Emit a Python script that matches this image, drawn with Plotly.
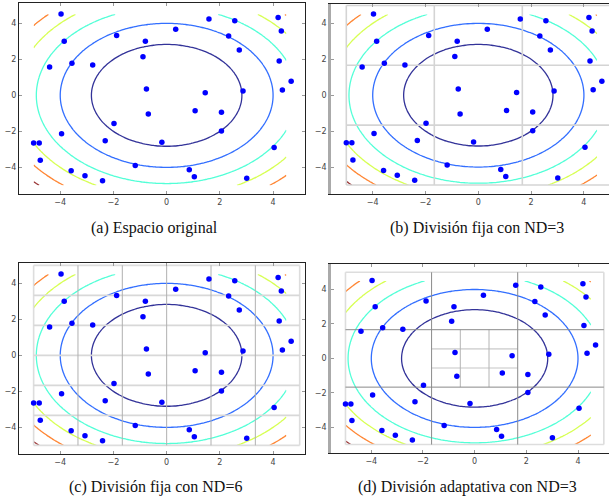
import numpy as np
import plotly.graph_objects as go

# ---- data ----
pts_x = [-3.97, -3.85, -4.40, -3.56, -2.78, -1.88, -0.80, -0.89, 0.34, 1.59,
         2.56, 2.33, 2.73, 4.19, 4.31, 4.23, 4.68, 4.35, -0.76, 1.45,
         2.87, -0.69, 1.07, 2.06, 2.06, -1.98, -2.31, -3.95, -5.00, -4.79,
         -4.75, -3.59, -3.07, -2.41, -1.18, -0.18, 0.85, 1.04, 3.01, 4.04]
pts_y = [4.52, 3.00, 1.57, 1.78, 1.69, 3.33, 3.00, 2.15, 3.67, 4.24,
         4.15, 3.30, 2.52, 4.33, 3.57, 1.91, 0.78, 0.30, 0.35, 0.15,
         0.24, -1.04, -0.85, -0.94, -1.98, -1.56, -2.52, -2.13, -2.65, -2.65,
         -3.61, -4.19, -4.46, -4.74, -3.89, -2.61, -4.13, -4.52, -4.61, -2.89]

grid_x = np.arange(-5.0, 4.5001, 0.1)
grid_y = np.arange(-5.0, 4.5001, 0.1)
contour_levels = dict(start=8, end=48, size=8)

tick_vals = [-4, -2, 0, 2, 4]
captions = ["(a) Espacio original", "(b) División fija con ND=3",
            "(c) División fija con ND=6", "(d) División adaptativa con ND=3"]

space_lo, space_hi = -5.0, 5.0
nd3 = np.linspace(space_lo, space_hi, 4)
nd6 = np.linspace(space_lo, space_hi, 7)
sub_center = np.linspace(nd3[1], nd3[2], 4)

jet = [[0.0, '#000080'], [0.2, '#004cff'], [0.4, '#29ffce'],
       [0.6, '#ceff29'], [0.8, '#ff6800'], [1.0, '#800000']]

W, H = 609, 500

panels = [
    dict(px=(19, 305), py=(3, 194), xr=[-5.55, 5.2], yr=[-5.48, 5.13], gray_left=False),
    dict(px=(331, 609), py=(4, 194), xr=[-5.58, 4.95], yr=[-5.5, 5.08], gray_left=True),
    dict(px=(19, 305), py=(263, 454), xr=[-5.55, 5.2], yr=[-5.48, 5.13], gray_left=False),
    dict(px=(331, 609), py=(264, 453), xr=[-5.56, 5.2], yr=[-5.49, 5.48], gray_left=True),
]

fig = go.Figure()
Z = np.add.outer(grid_y ** 2, grid_x ** 2)


def seg_trace(segs, xa, ya, color, width):
    xs, ys = [], []
    for (x0, y0, x1, y1) in segs:
        xs += [x0, x1, None]
        ys += [y0, y1, None]
    return go.Scatter(x=xs, y=ys, mode='lines', xaxis=xa, yaxis=ya,
                      line=dict(color=color, width=width), hoverinfo='skip',
                      showlegend=False)


def rect_segs(lo, hi):
    return [(lo, lo, hi, lo), (lo, hi, hi, hi), (lo, lo, lo, hi), (hi, lo, hi, hi)]


for i, p in enumerate(panels):
    n = '' if i == 0 else str(i + 1)
    xa, ya = 'x' + n, 'y' + n
    # cell division lines
    if i == 1:
        segs = rect_segs(space_lo, space_hi)
        segs += [(v, space_lo, v, space_hi) for v in nd3[1:-1]]
        segs += [(space_lo, v, space_hi, v) for v in nd3[1:-1]]
        fig.add_trace(seg_trace(segs, xa, ya, '#d4d4d4', 1.6))
    if i == 2:
        fig.add_trace(seg_trace(rect_segs(space_lo, space_hi), xa, ya, '#dddddd', 1.6))
        fig.add_trace(seg_trace([(space_lo, v, space_hi, v) for v in nd6[1:-1]],
                                xa, ya, '#d8d8d8', 1.6))
        fig.add_trace(seg_trace([(v, space_lo, v, space_hi) for v in nd6[1:-1]],
                                xa, ya, '#b0b0b0', 1.0))
    if i == 3:
        fig.add_trace(seg_trace(rect_segs(space_lo, space_hi), xa, ya, '#dddddd', 1.6))
        fig.add_trace(seg_trace([(sub_center[0], v, sub_center[-1], v) for v in sub_center[1:-1]],
                                xa, ya, '#d8d8d8', 1.6))
        fig.add_trace(seg_trace([(v, sub_center[0], v, sub_center[-1]) for v in sub_center[1:-1]],
                                xa, ya, '#b4b4b4', 1.0))
        segs = [(v, space_lo, v, space_hi) for v in nd3[1:-1]]
        segs += [(space_lo, v, space_hi, v) for v in nd3[1:-1]]
        fig.add_trace(seg_trace(segs, xa, ya, '#8a8a8a', 1.0))
    # contours
    fig.add_trace(go.Contour(x=grid_x, y=grid_y, z=Z, xaxis=xa, yaxis=ya,
                             contours=dict(coloring='lines', **contour_levels),
                             colorscale=jet, zmin=8, zmax=48, showscale=False,
                             line=dict(width=1.3), opacity=0.8, hoverinfo='skip'))
    # points
    fig.add_trace(go.Scatter(x=pts_x, y=pts_y, mode='markers', xaxis=xa, yaxis=ya,
                             marker=dict(color='#0000ff', size=5.5, line=dict(width=0)),
                             showlegend=False))

    x0, x1 = p['px']
    y0, y1 = p['py']
    axis_font = dict(family='DejaVu Sans', size=8, color='#444444')
    xdict = dict(domain=[x0 / W, min(x1 / W, 1.0)], range=p['xr'], anchor=ya,
                 tickvals=tick_vals, ticks='inside', ticklen=3, tickcolor='#999999',
                 showline=True, linecolor='#222222', linewidth=1, mirror='allticks',
                 showgrid=False, zeroline=False, tickfont=axis_font)
    ydict = dict(domain=[1 - y1 / H, 1 - y0 / H], range=p['yr'], anchor=xa,
                 tickvals=tick_vals, ticks='inside', ticklen=3, tickcolor='#999999',
                 showline=True, showgrid=False, zeroline=False, tickfont=axis_font)
    if p['gray_left']:
        ydict.update(linecolor='#aaaaaa', linewidth=2.5, mirror=False)
    else:
        ydict.update(linecolor='#222222', linewidth=1, mirror='allticks')
    fig.layout['xaxis' + n] = xdict
    fig.layout['yaxis' + n] = ydict

cap_pos = [(154, 228), (477, 228), (155, 487), (468, 487)]
for txt, (cx, cy) in zip(captions, cap_pos):
    fig.add_annotation(text=txt, x=cx / W, y=1 - cy / H, xref='paper', yref='paper',
                       showarrow=False, xanchor='center', yanchor='middle',
                       font=dict(family='Liberation Serif', size=16, color='#111111'))

fig.update_layout(width=W, height=H, margin=dict(l=0, r=0, t=0, b=0),
                  plot_bgcolor='white', paper_bgcolor='white', showlegend=False)

fig.write_html('out.html', config={'displayModeBar': False},
               post_script="document.body.style.margin='0';document.body.style.overflow='hidden';")
